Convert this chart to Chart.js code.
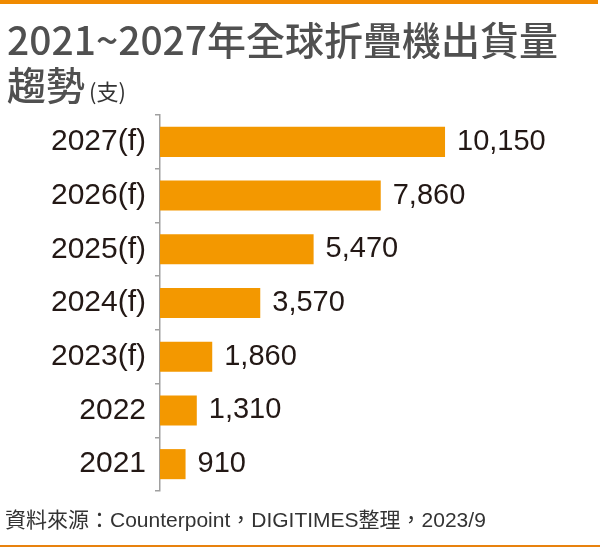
<!DOCTYPE html>
<html>
<head>
<meta charset="utf-8">
<script src="https://cdn.jsdelivr.net/npm/chart.js@4"></script>
<style>
  html, body { margin: 0; padding: 0; background: #fff; }
  #wrap { position: relative; width: 600px; height: 547px; overflow: hidden; }
  #topLine { position: absolute; left: 0; top: 0; width: 598px; height: 4px; background: #f08a00; }
  #bottomLine { position: absolute; left: 0; top: 545px; width: 600px; height: 2px; background: #e8820e; }
  .title { position: absolute; left: 7px; font-family: "Noto Sans CJK TC", sans-serif; font-weight: 500;
           color: #505050; font-size: 39px; line-height: 42px; white-space: nowrap; }
  .title small { font-size: 22px; font-weight: normal; color: #333; margin-left: 4px; }
  #source { position: absolute; left: 5px; top: 503px; font-family: "Liberation Sans", "Noto Sans CJK TC", sans-serif;
            font-size: 21px; color: #333; white-space: nowrap; }
  canvas { position: absolute; left: 0; top: 0; }
</style>
</head>
<body>
<div id="wrap">
  <div id="topLine"></div>
  <canvas id="foldChart" width="600" height="547"></canvas>
  <div class="title" style="top:17px">2021~2027年全球折疊機出貨量</div>
  <div class="title" style="top:62px">趨勢<small>(支)</small></div>
  <div id="source">資料來源：Counterpoint，DIGITIMES整理，2023/9</div>
  <div id="bottomLine"></div>
</div>
<script>
// shipments per year, top to bottom as drawn
const years = ['2027(f)', '2026(f)', '2025(f)', '2024(f)', '2023(f)', '2022', '2021'];
const shipments = [10150, 7860, 5470, 3570, 1860, 1310, 910];

// value labels at the end of each bar
const valueLabels = {
  id: 'valueLabels',
  afterDatasetsDraw(chart) {
    const ctx = chart.ctx;
    const meta = chart.getDatasetMeta(0);
    ctx.save();
    ctx.font = '29px "Liberation Sans", Arial, sans-serif';
    ctx.fillStyle = '#231815';
    ctx.textAlign = 'left';
    ctx.textBaseline = 'middle';
    meta.data.forEach((bar, i) => {
      ctx.fillText(shipments[i].toLocaleString('en-US'), bar.x + 12, bar.y);
    });
    ctx.restore();
  }
};

new Chart(document.getElementById('foldChart'), {
  type: 'bar',
  data: {
    labels: years,
    datasets: [{
      label: '出貨量',
      data: shipments,
      backgroundColor: '#f39800',
      categoryPercentage: 1,
      barPercentage: 0.56
    }]
  },
  options: {
    indexAxis: 'y',
    responsive: false,
    animation: false,
    layout: { padding: { top: 115, bottom: 56, left: 0, right: 103 } },
    plugins: {
      legend: { display: false },
      tooltip: { enabled: false }
    },
    scales: {
      x: { display: false, min: 0, max: 12000 },
      y: {
        offset: true,
        afterFit: (scale) => { scale.width = 160; },
        grid: { offset: true, drawOnChartArea: false, tickLength: 5, color: '#a0a0a0', lineWidth: 1.5 },
        border: { color: '#a0a0a0', width: 1.5 },
        ticks: {
          padding: 9,
          color: '#231815',
          font: { family: '"Liberation Sans", Arial, sans-serif', size: 30 }
        }
      }
    }
  },
  plugins: [valueLabels]
});
</script>
</body>
</html>
